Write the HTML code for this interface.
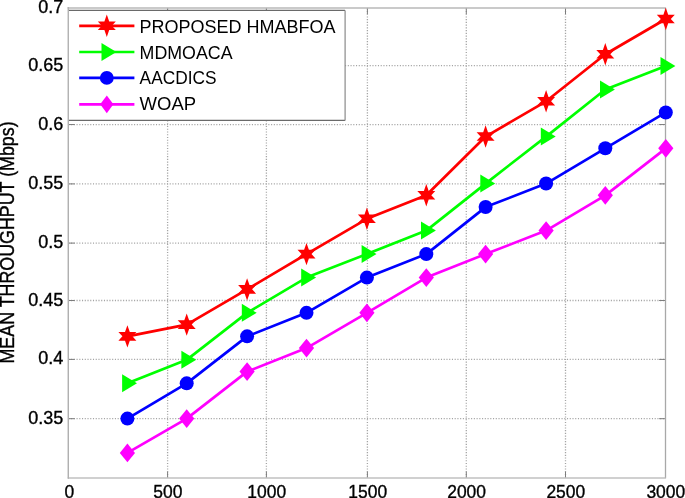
<!DOCTYPE html><html><head><meta charset="utf-8"><style>html,body{margin:0;padding:0;background:#fff;}svg{display:block;will-change:transform;}text{font-family:"Liberation Sans",sans-serif;fill:#000;}.b{stroke:#000;stroke-width:0.35px;}</style></head><body>
<svg width="685" height="498" viewBox="0 0 685 498">
<rect width="685" height="498" fill="#fff"/>
<line x1="167.60" y1="477.80" x2="167.60" y2="7.90" stroke="#a4a4a4" stroke-width="1.3" stroke-dasharray="1.1 1.64"/>
<line x1="266.40" y1="477.80" x2="266.40" y2="7.90" stroke="#a4a4a4" stroke-width="1.3" stroke-dasharray="1.1 1.64"/>
<line x1="367.40" y1="477.80" x2="367.40" y2="7.90" stroke="#a4a4a4" stroke-width="1.3" stroke-dasharray="1.1 1.64"/>
<line x1="466.30" y1="477.80" x2="466.30" y2="7.90" stroke="#a4a4a4" stroke-width="1.3" stroke-dasharray="1.1 1.64"/>
<line x1="565.50" y1="477.80" x2="565.50" y2="7.90" stroke="#a4a4a4" stroke-width="1.3" stroke-dasharray="1.1 1.64"/>
<line x1="68.30" y1="65.60" x2="665.50" y2="65.60" stroke="#a4a4a4" stroke-width="1.3" stroke-dasharray="1.1 1.64"/>
<line x1="68.30" y1="124.55" x2="665.50" y2="124.55" stroke="#a4a4a4" stroke-width="1.3" stroke-dasharray="1.1 1.64"/>
<line x1="68.30" y1="183.90" x2="665.50" y2="183.90" stroke="#a4a4a4" stroke-width="1.3" stroke-dasharray="1.1 1.64"/>
<line x1="68.30" y1="243.10" x2="665.50" y2="243.10" stroke="#a4a4a4" stroke-width="1.3" stroke-dasharray="1.1 1.64"/>
<line x1="68.30" y1="300.50" x2="665.50" y2="300.50" stroke="#a4a4a4" stroke-width="1.3" stroke-dasharray="1.1 1.64"/>
<line x1="68.30" y1="359.40" x2="665.50" y2="359.40" stroke="#a4a4a4" stroke-width="1.3" stroke-dasharray="1.1 1.64"/>
<line x1="68.30" y1="418.70" x2="665.50" y2="418.70" stroke="#a4a4a4" stroke-width="1.3" stroke-dasharray="1.1 1.64"/>
<line x1="167.60" y1="477.80" x2="167.60" y2="471.50" stroke="#7c7c7c" stroke-width="1"/>
<line x1="167.60" y1="7.90" x2="167.60" y2="14.20" stroke="#7c7c7c" stroke-width="1"/>
<line x1="266.40" y1="477.80" x2="266.40" y2="471.50" stroke="#7c7c7c" stroke-width="1"/>
<line x1="266.40" y1="7.90" x2="266.40" y2="14.20" stroke="#7c7c7c" stroke-width="1"/>
<line x1="367.40" y1="477.80" x2="367.40" y2="471.50" stroke="#7c7c7c" stroke-width="1"/>
<line x1="367.40" y1="7.90" x2="367.40" y2="14.20" stroke="#7c7c7c" stroke-width="1"/>
<line x1="466.30" y1="477.80" x2="466.30" y2="471.50" stroke="#7c7c7c" stroke-width="1"/>
<line x1="466.30" y1="7.90" x2="466.30" y2="14.20" stroke="#7c7c7c" stroke-width="1"/>
<line x1="565.50" y1="477.80" x2="565.50" y2="471.50" stroke="#7c7c7c" stroke-width="1"/>
<line x1="565.50" y1="7.90" x2="565.50" y2="14.20" stroke="#7c7c7c" stroke-width="1"/>
<line x1="68.30" y1="65.60" x2="74.70" y2="65.60" stroke="#7c7c7c" stroke-width="1"/>
<line x1="665.50" y1="65.60" x2="659.10" y2="65.60" stroke="#7c7c7c" stroke-width="1"/>
<line x1="68.30" y1="124.55" x2="74.70" y2="124.55" stroke="#7c7c7c" stroke-width="1"/>
<line x1="665.50" y1="124.55" x2="659.10" y2="124.55" stroke="#7c7c7c" stroke-width="1"/>
<line x1="68.30" y1="183.90" x2="74.70" y2="183.90" stroke="#7c7c7c" stroke-width="1"/>
<line x1="665.50" y1="183.90" x2="659.10" y2="183.90" stroke="#7c7c7c" stroke-width="1"/>
<line x1="68.30" y1="243.10" x2="74.70" y2="243.10" stroke="#7c7c7c" stroke-width="1"/>
<line x1="665.50" y1="243.10" x2="659.10" y2="243.10" stroke="#7c7c7c" stroke-width="1"/>
<line x1="68.30" y1="300.50" x2="74.70" y2="300.50" stroke="#7c7c7c" stroke-width="1"/>
<line x1="665.50" y1="300.50" x2="659.10" y2="300.50" stroke="#7c7c7c" stroke-width="1"/>
<line x1="68.30" y1="359.40" x2="74.70" y2="359.40" stroke="#7c7c7c" stroke-width="1"/>
<line x1="665.50" y1="359.40" x2="659.10" y2="359.40" stroke="#7c7c7c" stroke-width="1"/>
<line x1="68.30" y1="418.70" x2="74.70" y2="418.70" stroke="#7c7c7c" stroke-width="1"/>
<line x1="665.50" y1="418.70" x2="659.10" y2="418.70" stroke="#7c7c7c" stroke-width="1"/>
<line x1="67.70" y1="7.95" x2="666.10" y2="7.95" stroke="#b8b8b8" stroke-width="1.4"/>
<line x1="67.70" y1="478.00" x2="666.10" y2="478.00" stroke="#c0c0c0" stroke-width="1.3"/>
<line x1="68.35" y1="7.10" x2="68.35" y2="478.60" stroke="#b0b0b0" stroke-width="1.2"/>
<line x1="665.50" y1="7.90" x2="665.50" y2="477.80" stroke="#a8a8a8" stroke-width="1.3"/>
<polyline points="127.40,336.35 186.70,324.59 247.10,289.34 306.50,254.08 366.90,218.82 426.30,195.32 485.60,136.56 546.10,101.30 605.30,54.29 665.80,19.03" fill="none" stroke="#ff0000" stroke-width="2.70" stroke-linejoin="round"/>
<polyline points="127.40,383.36 186.70,359.85 247.10,312.84 306.50,277.58 366.90,254.08 426.30,230.58 485.60,183.57 546.10,136.56 605.30,89.55 665.80,66.04" fill="none" stroke="#00ff00" stroke-width="2.70" stroke-linejoin="round"/>
<polyline points="127.40,418.61 186.70,383.36 247.10,336.35 306.50,312.84 366.90,277.58 426.30,254.08 485.60,207.07 546.10,183.57 605.30,148.31 665.80,112.46" fill="none" stroke="#0000ff" stroke-width="2.70" stroke-linejoin="round"/>
<polyline points="127.40,452.93 186.70,418.61 247.10,371.60 306.50,348.10 366.90,312.84 426.30,277.58 485.60,254.08 546.10,230.58 605.30,195.32 665.80,148.31" fill="none" stroke="#ff00ff" stroke-width="2.70" stroke-linejoin="round"/>
<polygon points="127.40,325.15 129.80,332.05 136.40,332.05 132.40,336.35 136.40,340.65 129.80,340.65 127.40,347.55 125.00,340.65 118.40,340.65 122.40,336.35 118.40,332.05 125.00,332.05" fill="#ff0000"/>
<polygon points="186.70,313.39 189.10,320.29 195.70,320.29 191.70,324.59 195.70,328.89 189.10,328.89 186.70,335.79 184.30,328.89 177.70,328.89 181.70,324.59 177.70,320.29 184.30,320.29" fill="#ff0000"/>
<polygon points="247.10,278.14 249.50,285.04 256.10,285.04 252.10,289.34 256.10,293.64 249.50,293.64 247.10,300.54 244.70,293.64 238.10,293.64 242.10,289.34 238.10,285.04 244.70,285.04" fill="#ff0000"/>
<polygon points="306.50,242.88 308.90,249.78 315.50,249.78 311.50,254.08 315.50,258.38 308.90,258.38 306.50,265.28 304.10,258.38 297.50,258.38 301.50,254.08 297.50,249.78 304.10,249.78" fill="#ff0000"/>
<polygon points="366.90,207.62 369.30,214.52 375.90,214.52 371.90,218.82 375.90,223.12 369.30,223.12 366.90,230.02 364.50,223.12 357.90,223.12 361.90,218.82 357.90,214.52 364.50,214.52" fill="#ff0000"/>
<polygon points="426.30,184.12 428.70,191.02 435.30,191.02 431.30,195.32 435.30,199.62 428.70,199.62 426.30,206.52 423.90,199.62 417.30,199.62 421.30,195.32 417.30,191.02 423.90,191.02" fill="#ff0000"/>
<polygon points="485.60,125.36 488.00,132.26 494.60,132.26 490.60,136.56 494.60,140.86 488.00,140.86 485.60,147.76 483.20,140.86 476.60,140.86 480.60,136.56 476.60,132.26 483.20,132.26" fill="#ff0000"/>
<polygon points="546.10,90.10 548.50,97.00 555.10,97.00 551.10,101.30 555.10,105.60 548.50,105.60 546.10,112.50 543.70,105.60 537.10,105.60 541.10,101.30 537.10,97.00 543.70,97.00" fill="#ff0000"/>
<polygon points="605.30,43.09 607.70,49.99 614.30,49.99 610.30,54.29 614.30,58.59 607.70,58.59 605.30,65.49 602.90,58.59 596.30,58.59 600.30,54.29 596.30,49.99 602.90,49.99" fill="#ff0000"/>
<polygon points="665.80,7.83 668.20,14.73 674.80,14.73 670.80,19.03 674.80,23.33 668.20,23.33 665.80,30.23 663.40,23.33 656.80,23.33 660.80,19.03 656.80,14.73 663.40,14.73" fill="#ff0000"/>
<polygon points="122.10,374.36 137.00,383.36 122.10,392.36" fill="#00ff00"/>
<polygon points="181.40,350.85 196.30,359.85 181.40,368.85" fill="#00ff00"/>
<polygon points="241.80,303.84 256.70,312.84 241.80,321.84" fill="#00ff00"/>
<polygon points="301.20,268.58 316.10,277.58 301.20,286.58" fill="#00ff00"/>
<polygon points="361.60,245.08 376.50,254.08 361.60,263.08" fill="#00ff00"/>
<polygon points="421.00,221.58 435.90,230.58 421.00,239.58" fill="#00ff00"/>
<polygon points="480.30,174.57 495.20,183.57 480.30,192.57" fill="#00ff00"/>
<polygon points="540.80,127.56 555.70,136.56 540.80,145.56" fill="#00ff00"/>
<polygon points="600.00,80.55 614.90,89.55 600.00,98.55" fill="#00ff00"/>
<polygon points="660.50,57.04 675.40,66.04 660.50,75.04" fill="#00ff00"/>
<circle cx="127.40" cy="418.61" r="7.00" fill="#0000ff"/>
<circle cx="186.70" cy="383.36" r="7.00" fill="#0000ff"/>
<circle cx="247.10" cy="336.35" r="7.00" fill="#0000ff"/>
<circle cx="306.50" cy="312.84" r="7.00" fill="#0000ff"/>
<circle cx="366.90" cy="277.58" r="7.00" fill="#0000ff"/>
<circle cx="426.30" cy="254.08" r="7.00" fill="#0000ff"/>
<circle cx="485.60" cy="207.07" r="7.00" fill="#0000ff"/>
<circle cx="546.10" cy="183.57" r="7.00" fill="#0000ff"/>
<circle cx="605.30" cy="148.31" r="7.00" fill="#0000ff"/>
<circle cx="665.80" cy="112.46" r="7.00" fill="#0000ff"/>
<polygon points="127.40,443.53 135.00,452.93 127.40,462.33 119.80,452.93" fill="#ff00ff"/>
<polygon points="186.70,409.21 194.30,418.61 186.70,428.01 179.10,418.61" fill="#ff00ff"/>
<polygon points="247.10,362.20 254.70,371.60 247.10,381.00 239.50,371.60" fill="#ff00ff"/>
<polygon points="306.50,338.70 314.10,348.10 306.50,357.50 298.90,348.10" fill="#ff00ff"/>
<polygon points="366.90,303.44 374.50,312.84 366.90,322.24 359.30,312.84" fill="#ff00ff"/>
<polygon points="426.30,268.18 433.90,277.58 426.30,286.98 418.70,277.58" fill="#ff00ff"/>
<polygon points="485.60,244.68 493.20,254.08 485.60,263.48 478.00,254.08" fill="#ff00ff"/>
<polygon points="546.10,221.18 553.70,230.58 546.10,239.98 538.50,230.58" fill="#ff00ff"/>
<polygon points="605.30,185.92 612.90,195.32 605.30,204.72 597.70,195.32" fill="#ff00ff"/>
<polygon points="665.80,138.91 673.40,148.31 665.80,157.71 658.20,148.31" fill="#ff00ff"/>
<rect x="68.30" y="10.40" width="276.80" height="110.00" fill="#fff"/>
<line x1="68.30" y1="10.40" x2="345.10" y2="10.40" stroke="#6a6a6a" stroke-width="1.1"/>
<line x1="68.30" y1="120.40" x2="345.10" y2="120.40" stroke="#6a6a6a" stroke-width="1.1"/>
<line x1="345.10" y1="10.40" x2="345.10" y2="120.40" stroke="#8a8a8a" stroke-width="1.2"/>
<line x1="68.35" y1="7.10" x2="68.35" y2="478.60" stroke="#b0b0b0" stroke-width="1.2"/>
<line x1="79.2" y1="25.80" x2="134.4" y2="25.80" stroke="#ff0000" stroke-width="2.70"/>
<polygon points="106.80,14.60 109.20,21.50 115.80,21.50 111.80,25.80 115.80,30.10 109.20,30.10 106.80,37.00 104.40,30.10 97.80,30.10 101.80,25.80 97.80,21.50 104.40,21.50" fill="#ff0000"/>
<text x="139.6" y="33.00" font-size="18" textLength="196.0" lengthAdjust="spacingAndGlyphs">PROPOSED HMABFOA</text>
<line x1="79.2" y1="52.00" x2="134.4" y2="52.00" stroke="#00ff00" stroke-width="2.70"/>
<polygon points="101.50,43.00 116.40,52.00 101.50,61.00" fill="#00ff00"/>
<text x="139.6" y="58.70" font-size="18" textLength="93.0" lengthAdjust="spacingAndGlyphs">MDMOACA</text>
<line x1="79.2" y1="77.90" x2="134.4" y2="77.90" stroke="#0000ff" stroke-width="2.70"/>
<circle cx="106.80" cy="77.90" r="6.90" fill="#0000ff"/>
<text x="139.6" y="84.40" font-size="18" textLength="76.9" lengthAdjust="spacingAndGlyphs">AACDICS</text>
<line x1="79.2" y1="104.30" x2="134.4" y2="104.30" stroke="#ff00ff" stroke-width="2.70"/>
<polygon points="106.80,95.40 113.40,104.30 106.80,113.20 100.20,104.30" fill="#ff00ff"/>
<text x="139.6" y="110.00" font-size="18" textLength="56.5" lengthAdjust="spacingAndGlyphs">WOAP</text>
<text transform="translate(69.30,497.9) scale(0.97,1.02)" font-size="18" text-anchor="middle" class="b">0</text>
<text transform="translate(167.90,497.9) scale(0.97,1.02)" font-size="18" text-anchor="middle" class="b">500</text>
<text transform="translate(266.70,497.9) scale(0.97,1.02)" font-size="18" text-anchor="middle" class="b">1000</text>
<text transform="translate(367.70,497.9) scale(0.97,1.02)" font-size="18" text-anchor="middle" class="b">1500</text>
<text transform="translate(466.60,497.9) scale(0.97,1.02)" font-size="18" text-anchor="middle" class="b">2000</text>
<text transform="translate(565.80,497.9) scale(0.97,1.02)" font-size="18" text-anchor="middle" class="b">2500</text>
<text transform="translate(665.80,497.9) scale(0.97,1.02)" font-size="18" text-anchor="middle" class="b">3000</text>
<text x="63.4" y="12.90" font-size="18" text-anchor="end" class="b">0.7</text>
<text x="63.4" y="70.60" font-size="18" text-anchor="end" class="b">0.65</text>
<text x="63.4" y="129.55" font-size="18" text-anchor="end" class="b">0.6</text>
<text x="63.4" y="188.90" font-size="18" text-anchor="end" class="b">0.55</text>
<text x="63.4" y="248.10" font-size="18" text-anchor="end" class="b">0.5</text>
<text x="63.4" y="305.50" font-size="18" text-anchor="end" class="b">0.45</text>
<text x="63.4" y="364.40" font-size="18" text-anchor="end" class="b">0.4</text>
<text x="63.4" y="423.70" font-size="18" text-anchor="end" class="b">0.35</text>
<text transform="translate(13.6,363.5) rotate(-90) scale(1,1.12)" font-size="17.85" class="b">MEAN THROUGHPUT (Mbps)</text>
</svg></body></html>
